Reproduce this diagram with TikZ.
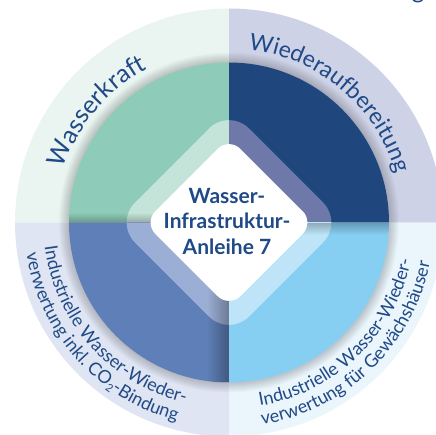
\documentclass[tikz,border=0pt]{standalone}
\usepackage{fontspec}
\setmainfont{Lato}
\usetikzlibrary{decorations.text,fadings}
\definecolor{tlRing}{HTML}{EAF5F1}
\definecolor{trRing}{HTML}{CDD2E6}
\definecolor{blRing}{HTML}{DFE5F2}
\definecolor{brRing}{HTML}{EAF5FC}
\definecolor{tlDisk}{HTML}{8ECBB8}
\definecolor{trDisk}{HTML}{1F477D}
\definecolor{blDisk}{HTML}{5E7FB7}
\definecolor{brDisk}{HTML}{87CEF3}
\definecolor{tlBand}{HTML}{C4E4D9}
\definecolor{trBand}{HTML}{6E79AA}
\definecolor{blBand}{HTML}{9BAED5}
\definecolor{brBand}{HTML}{BDE4F7}
\definecolor{txt}{HTML}{1F4A87}
\tikzfading[name=fadeUpDark, bottom color=transparent!0, top color=transparent!100]
\tikzfading[name=fadeDownDark, top color=transparent!0, bottom color=transparent!100]
\tikzfading[name=fadeRightDark, right color=transparent!0, left color=transparent!100]
\tikzset{
  arclabel/.style={decorate, decoration={text along path, text align=center, text color=txt, text={#1}}},
  bandshape/.style={rounded corners=28},
  whiteshape/.style={fill=white, rounded corners=16},
  titleline/.style={font=\bfseries\fontsize{21}{25}\selectfont, text=txt, inner sep=0, anchor=base},
}
\newcommand\qsector[4]{\fill[#1] (0,0) -- (#2:#4) arc[start angle=#2, end angle=#3, radius=#4] -- cycle;}
\begin{document}
\begin{tikzpicture}[x=1pt,y=1pt]
\useasboundingbox (-229,-211.5) rectangle (207,222.5);
\clip (-229,-211.5) rectangle (207,222.5);
% outer ring
\qsector{tlRing}{90}{180}{214}
\qsector{trRing}{0}{90}{214}
\qsector{blRing}{180}{270}{214}
\qsector{brRing}{270}{360}{214}
% soft shadow of the inner disk
\foreach \r in {161,...,170} { \fill[black, opacity=0.018] (0,0) circle[radius=\r]; }
% inner disk
\qsector{tlDisk}{90}{180}{160}
\qsector{trDisk}{0}{90}{160}
\qsector{blDisk}{180}{270}{160}
\qsector{brDisk}{270}{360}{160}
% bands
\begin{scope}\clip (-200,0) rectangle (0,200);
\fill[tlBand, bandshape] (0,114) -- (114,0) -- (0,-114) -- (-114,0) -- cycle;\end{scope}
\begin{scope}\clip (0,0) rectangle (200,200);
\fill[trBand, bandshape] (0,114) -- (114,0) -- (0,-114) -- (-114,0) -- cycle;\end{scope}
\begin{scope}\clip (-200,0) rectangle (0,-200);
\fill[blBand, bandshape] (0,114) -- (114,0) -- (0,-114) -- (-114,0) -- cycle;\end{scope}
\begin{scope}\clip (0,0) rectangle (200,-200);
\fill[brBand, bandshape] (0,114) -- (114,0) -- (0,-114) -- (-114,0) -- cycle;\end{scope}
% quadrant edge shadows
\begin{scope}\clip (0,0) -- (180:160) arc[start angle=180,end angle=90,radius=160] -- cycle;
\fill[black, opacity=0.25, path fading=fadeUpDark] (-160,0) rectangle (0,10);\end{scope}
\begin{scope}\clip (0,0) -- (180:160) arc[start angle=180,end angle=270,radius=160] -- cycle;
\fill[black, opacity=0.3, path fading=fadeRightDark] (-22,-160) rectangle (0,0);\end{scope}
\begin{scope}\clip (0,0) -- (270:160) arc[start angle=270,end angle=360,radius=160] -- cycle;
\fill[black, opacity=0.25, path fading=fadeDownDark] (0,-12) rectangle (160,0);\end{scope}
% white centre
\fill[whiteshape] (0,85) -- (85,0) -- (0,-85) -- (-85,0) -- cycle;
\node[titleline] (t1) at (-2,19.5) {Wasser-};
\node[titleline] (t2) at (-2,-6) {Infrastruktur-};
\node[titleline] (t3) at (-2,-31.5) {Anleihe 7};
% arc labels
\path[arclabel={|\fontsize{25}{28}\selectfont|Wasserkraft}] (190:174) arc[start angle=190, end angle=90, radius=174];
\path[arclabel={|\fontsize{23}{28}\selectfont|Wiederaufbereitung}] (100:174) arc[start angle=100, end angle=0, radius=174];
\path[arclabel={|\fontsize{18}{20}\selectfont|Industrielle Wasser-Wieder-}] (142:186) arc[start angle=142, end angle=302, radius=186];
\path[arclabel={|\fontsize{18}{20}\selectfont|verwertung inkl. CO{\raisebox{-3pt}{\fontsize{11}{11}\selectfont 2}}-Bindung}] (142:205) arc[start angle=142, end angle=302, radius=205];
\path[arclabel={|\fontsize{18}{20}\selectfont|Industrielle Wasser-Wieder-}] (234:186) arc[start angle=234, end angle=394, radius=186];
\path[arclabel={|\fontsize{18}{20}\selectfont|verwertung für Gewächshäuser}] (234:205) arc[start angle=234, end angle=394, radius=205];
\node[anchor=south, inner sep=0, font=\fontsize{24}{24}\selectfont, text=txt] (cutg) at (189,219.5) {g};
\end{tikzpicture}
\end{document}
